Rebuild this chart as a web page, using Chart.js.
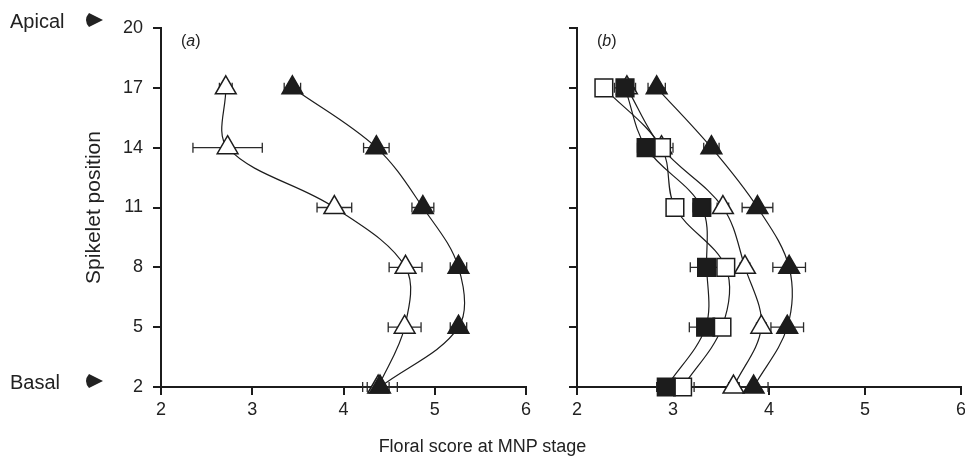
<!DOCTYPE html>
<html>
<head>
<meta charset="utf-8">
<script src="https://cdn.jsdelivr.net/npm/chart.js@4.4.0/dist/chart.umd.min.js"></script>
<style>
  body { margin: 0; background: #fff; width: 965px; height: 461px; overflow: hidden; position: relative;
         font-family: "Liberation Sans", Arial, sans-serif; }
  #wrapA { position: absolute; left: 0; top: 0; width: 545px; height: 461px; }
  #wrapB { position: absolute; left: 545px; top: 0; width: 430px; height: 461px; }
  #xTitle { position: absolute; left: 0; top: 436px; width: 965px; text-align: center; font-size: 18px; color: #222; }
</style>
</head>
<body>
<div id="wrapA"><canvas id="chartA"></canvas></div>
<div id="wrapB"><canvas id="chartB"></canvas></div>
<div id="xTitle">Floral score at MNP stage</div>
<script>
const FONT = '"Liberation Sans", Arial, sans-serif';
const INK = '#1c1c1c';

// spikelet positions (y) and axis ticks
const positions = [17, 14, 11, 8, 5, 2];
const yTicks = [2, 5, 8, 11, 14, 17, 20];
const xTicks = [2, 3, 4, 5, 6];

// panel (a)
const aOpenTri = [2.71, 2.73, 3.90, 4.68, 4.67, 4.38];
const aOpenTriErr = [0.07, 0.38, 0.19, 0.18, 0.18, 0.12];
const aFilledTri = [3.44, 4.36, 4.87, 5.26, 5.26, 4.40];
const aFilledTriErr = [0.09, 0.14, 0.12, 0.09, 0.09, 0.19];

// panel (b)
const bFilledSq = [2.50, 2.72, 3.30, 3.35, 3.34, 2.93];
const bFilledSqErr = [0.11, 0.09, 0.09, 0.17, 0.17, 0.10];
const bOpenSq = [2.28, 2.88, 3.02, 3.55, 3.51, 3.10];
const bOpenSqErr = [0.06, 0.12, 0.06, 0.06, 0.06, 0.12];
const bOpenTri = [2.52, 2.88, 3.52, 3.75, 3.92, 3.63];
const bOpenTriErr = [0.05, 0.05, 0.06, 0.05, 0.05, 0.05];
const bFilledTri = [2.83, 3.40, 3.88, 4.21, 4.19, 3.84];
const bFilledTriErr = [0.09, 0.08, 0.16, 0.17, 0.17, 0.15];

function series(xs, errs, shape, filled) {
  return {
    data: xs.map((x, i) => ({ x: x, y: positions[i] })),
    errors: errs,
    showLine: true,
    tension: 0.35,
    clip: false,
    borderColor: INK,
    borderWidth: 1.2,
    pointStyle: shape,
    pointRadius: shape === 'rect' ? 12.5 : 12,
    pointBackgroundColor: filled ? INK : '#fff',
    pointBorderColor: INK,
    pointBorderWidth: 1.5
  };
}

// horizontal error bars, drawn under the markers
const errorBars = {
  id: 'errorBars',
  beforeDatasetsDraw(chart) {
    const ctx = chart.ctx;
    const xs = chart.scales.x, ys = chart.scales.y;
    ctx.save();
    ctx.strokeStyle = '#2a2a2a';
    ctx.lineWidth = 1.3;
    chart.data.datasets.forEach(ds => {
      ds.data.forEach((p, i) => {
        const e = ds.errors[i];
        const x1 = xs.getPixelForValue(p.x - e), x2 = xs.getPixelForValue(p.x + e);
        const y = ys.getPixelForValue(p.y);
        ctx.beginPath();
        ctx.moveTo(x1, y); ctx.lineTo(x2, y);
        ctx.moveTo(x1, y - 5); ctx.lineTo(x1, y + 5);
        ctx.moveTo(x2, y - 5); ctx.lineTo(x2, y + 5);
        ctx.stroke();
      });
    });
    ctx.restore();
  }
};

// "(a)" / "(b)" with italic letter
const panelLabel = {
  id: 'panelLabel',
  afterDraw(chart, args, opts) {
    const ctx = chart.ctx;
    const x = chart.chartArea.left + opts.dx, y = 46;
    ctx.save();
    ctx.fillStyle = '#222';
    ctx.textBaseline = 'alphabetic';
    ctx.font = '16px ' + FONT;
    ctx.fillText('(', x, y);
    let w = ctx.measureText('(').width;
    ctx.font = 'italic 16px ' + FONT;
    ctx.fillText(opts.letter, x + w, y);
    w += ctx.measureText(opts.letter).width;
    ctx.font = '16px ' + FONT;
    ctx.fillText(')', x + w, y);
    ctx.restore();
  }
};

// Apical / Basal markers beside the y axis
const sideNotes = {
  id: 'sideNotes',
  afterDraw(chart, args, opts) {
    if (!opts.show) return;
    const ctx = chart.ctx;
    ctx.save();
    ctx.fillStyle = '#222';
    ctx.font = '20px ' + FONT;
    ctx.textBaseline = 'middle';
    [['Apical', 22, 20], ['Basal', 383, 381]].forEach(([t, y, ay]) => {
      ctx.fillText(t, 10, y);
      const ax = 86;
      ctx.beginPath();
      ctx.moveTo(ax + 17, ay);
      ctx.lineTo(ax + 3, ay - 7);
      ctx.quadraticCurveTo(ax - 3, ay, ax + 3, ay + 7);
      ctx.closePath();
      ctx.fill();
    });
    ctx.restore();
  }
};

function xScale() {
  return {
    type: 'linear', min: 2, max: 6,
    afterBuildTicks: s => { s.ticks = xTicks.map(v => ({ value: v })); },
    afterFit: s => { s.height = 40; },
    border: { color: INK, width: 2 },
    grid: { drawOnChartArea: false, drawTicks: true, tickLength: 8, color: INK, lineWidth: 2 },
    ticks: { color: '#222', font: { size: 18, family: FONT }, padding: 4, maxRotation: 0 }
  };
}

function yScale(labels, width) {
  return {
    type: 'linear', min: 2, max: 20,
    afterBuildTicks: s => { s.ticks = yTicks.map(v => ({ value: v })); },
    afterFit: s => { s.width = width; },
    border: { color: INK, width: 2 },
    grid: { drawOnChartArea: false, drawTicks: true, tickLength: 8, color: INK, lineWidth: 2 },
    ticks: {
      color: '#222', font: { size: 18, family: FONT }, padding: 10,
      callback: v => labels ? String(v) : ''
    },
    title: {
      display: labels, text: 'Spikelet position', color: '#222',
      font: { size: 21, family: FONT }, padding: { top: 0, bottom: 4 }
    }
  };
}

function makeChart(id, datasets, opts) {
  return new Chart(document.getElementById(id), {
    type: 'scatter',
    data: { datasets: datasets },
    options: {
      responsive: true,
      maintainAspectRatio: false,
      animation: false,
      layout: { padding: opts.padding },
      plugins: {
        legend: { display: false },
        tooltip: { enabled: false },
        panelLabel: { letter: opts.letter, dx: 20 },
        sideNotes: { show: opts.notes }
      },
      scales: { x: xScale(), y: yScale(opts.notes, opts.yWidth) }
    },
    plugins: [errorBars, panelLabel, sideNotes]
  });
}

makeChart('chartA', [
  series(aFilledTri, aFilledTriErr, 'triangle', true),
  series(aOpenTri, aOpenTriErr, 'triangle', false)
], { padding: { left: 82, right: 19, top: 28, bottom: 34 }, yWidth: 79, letter: 'a', notes: true });

makeChart('chartB', [
  series(bFilledSq, bFilledSqErr, 'rect', true),
  series(bOpenSq, bOpenSqErr, 'rect', false),
  series(bOpenTri, bOpenTriErr, 'triangle', false),
  series(bFilledTri, bFilledTriErr, 'triangle', true)
], { padding: { left: 0, right: 12, top: 28, bottom: 34 }, yWidth: 32, letter: 'b', notes: false });
</script>
</body>
</html>
